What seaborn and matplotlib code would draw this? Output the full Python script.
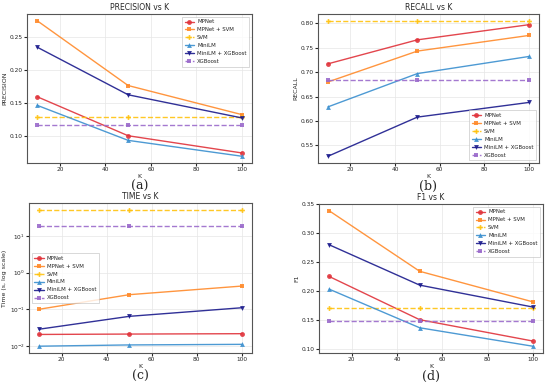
import numpy as np
import pandas as pd
import seaborn as sns
import matplotlib.pyplot as plt

# K values
k_values = [10, 50, 100]

methods = ["MPNet", "MPNet + SVM", "SVM", "MiniLM", "MiniLM + XGBoost", "XGBoost"]

# metric values, one list per method
precision = {
    "MPNet": [0.160, 0.101, 0.075],
    "MPNet + SVM": [0.275, 0.177, 0.133],
    "SVM": [0.129, 0.129, 0.129],
    "MiniLM": [0.147, 0.094, 0.070],
    "MiniLM + XGBoost": [0.235, 0.163, 0.128],
    "XGBoost": [0.118, 0.118, 0.118],
}
recall = {
    "MPNet": [0.717, 0.766, 0.797],
    "MPNet + SVM": [0.680, 0.743, 0.775],
    "SVM": [0.805, 0.805, 0.805],
    "MiniLM": [0.629, 0.697, 0.732],
    "MiniLM + XGBoost": [0.528, 0.608, 0.638],
    "XGBoost": [0.684, 0.684, 0.684],
}
time_s = {
    "MPNet": [0.0205, 0.021, 0.0215],
    "MPNet + SVM": [0.100, 0.25, 0.43],
    "SVM": [52.0, 52.0, 52.0],
    "MiniLM": [0.0098, 0.0106, 0.011],
    "MiniLM + XGBoost": [0.0285, 0.064, 0.11],
    "XGBoost": [19.0, 19.0, 19.0],
}
f1 = {
    "MPNet": [0.225, 0.150, 0.113],
    "MPNet + SVM": [0.339, 0.234, 0.181],
    "SVM": [0.170, 0.170, 0.170],
    "MiniLM": [0.203, 0.136, 0.104],
    "MiniLM + XGBoost": [0.280, 0.210, 0.172],
    "XGBoost": [0.148, 0.148, 0.148],
}

colors = {
    "MPNet": "#e0323a",
    "MPNet + SVM": "#ff8a2a",
    "SVM": "#ffc20e",
    "MiniLM": "#3a8fcf",
    "MiniLM + XGBoost": "#1a1a8c",
    "XGBoost": "#9a6acb",
}
markers = {
    "MPNet": "o",
    "MPNet + SVM": "s",
    "SVM": "P",
    "MiniLM": "^",
    "MiniLM + XGBoost": "v",
    "XGBoost": "s",
}
dashed = {"SVM", "XGBoost"}

sns.set_style("whitegrid")
plt.rcParams["font.family"] = ["DejaVu Sans"]

fig = plt.figure(figsize=(5.5, 3.87), dpi=100)

# axes boxes in pixels (left, top, right, bottom)
W, H = 550.0, 387.0
boxes = [
    (27, 14, 252, 163),
    (318, 14, 539, 163),
    (29, 203, 252, 353),
    (319, 204, 543, 353),
]
panels = [
    ("PRECISION vs K", "PRECISION", precision, "upper right", "(a)"),
    ("RECALL vs K", "RECALL", recall, "lower right", "(b)"),
    ("TIME vs K", "Time (s, log scale)", time_s, "center left", "(c)"),
    ("F1 vs K", "F1", f1, "upper right", "(d)"),
]

for (x0, y0, x1, y1), (title, ylabel, data, loc, tag) in zip(boxes, panels):
    ax = fig.add_axes([x0 / W, 1 - y1 / H, (x1 - x0) / W, (y1 - y0) / H])
    for m in methods:
        df = pd.DataFrame({"K": k_values, "val": data[m]})
        sns.lineplot(data=df, x="K", y="val", ax=ax, color=colors[m],
                     marker=markers[m], markersize=3.5, markeredgewidth=0,
                     linewidth=1.0, linestyle="--" if m in dashed else "-",
                     label=m, alpha=0.9)
    if tag == "(c)":
        ax.set_yscale("log")
    ax.set_title(title, fontsize=5.5, pad=3)
    ax.set_xlabel("K", fontsize=4.5, labelpad=1)
    ax.set_ylabel(ylabel, fontsize=4.5, labelpad=2)
    ax.set_xticks([20, 40, 60, 80, 100])
    ax.tick_params(labelsize=4.2, pad=1, length=2, left=True, bottom=True)
    ax.grid(True, color="#e6e6e6", linewidth=0.5)
    for s in ax.spines.values():
        s.set_color("#555555")
        s.set_linewidth(0.8)
    leg = ax.legend(loc=loc, fontsize=3.9, frameon=True, handlelength=1.7,
                    borderpad=0.5, labelspacing=0.55, fancybox=False,
                    handletextpad=0.6)
    leg.get_frame().set_edgecolor("#bbbbbb")
    leg.get_frame().set_linewidth(0.5)
    cx = (x0 + x1) / 2 / W
    fig.text(cx, 1 - (y1 + 23) / H, tag, ha="center", va="center",
             fontsize=9, family="DejaVu Serif")

fig.savefig("out.png", dpi=100)
